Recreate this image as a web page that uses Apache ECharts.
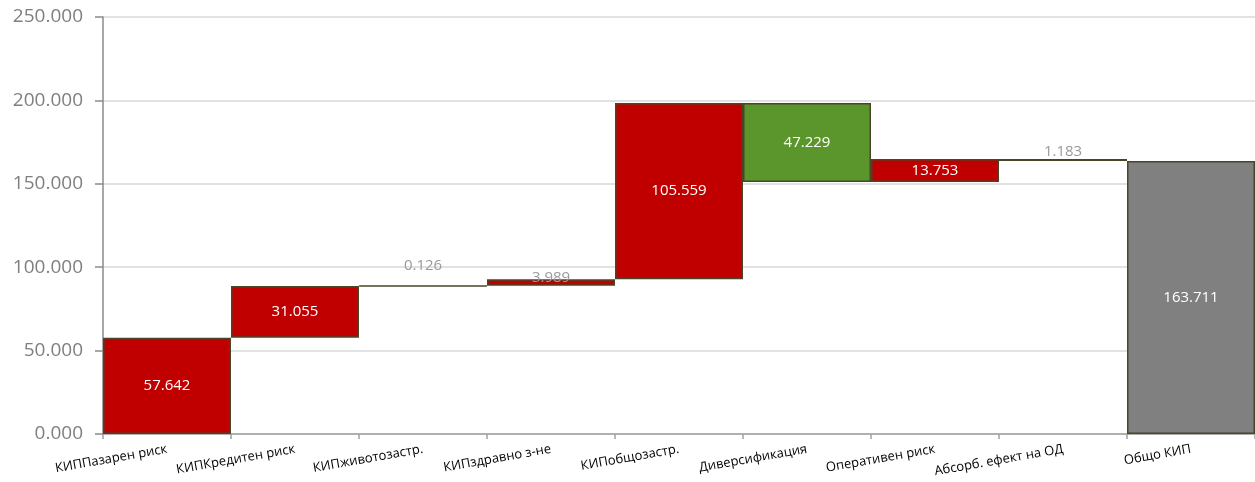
<!DOCTYPE html>
<html><head><meta charset="utf-8">
<script src="https://cdn.jsdelivr.net/npm/echarts@6/dist/echarts.min.js"></script>
<style>html,body{margin:0;padding:0;background:#fff}#c{width:1255px;height:482px}</style>
</head><body><div id="c"></div>
<script>
const categories = ['КИППазарен риск','КИПКредитен риск','КИПживотозастр.','КИПздравно з-не','КИПобщозастр.','Диверсификация','Оперативен риск','Абсорб. ефект на ОД','Общо КИП'];
const deltas = [57.642, 31.055, 0.126, 3.989, 105.559, -47.229, 13.753, -1.183];
const total = 163.711;
const yTicks = [0, 50, 100, 150, 200, 250];

const RED = '#c00000', GREEN = '#5a962c', GRAY = '#808080', BORDER = '#4a4528';
const smallLabelOffset = {2: -12, 3: 6, 7: 0};
const baseData = [], barData = [];
let run = 0;
deltas.forEach((d, i) => {
  const lo = d >= 0 ? run : run + d;
  const big = Math.abs(d) > 10;
  baseData.push(lo);
  barData.push({
    value: Math.abs(d),
    itemStyle: {color: d >= 0 ? RED : GREEN},
    label: big ? {position: 'inside', color: '#ffffff'} :
      {position: 'top', color: '#9a9a9a', distance: 0, offset: [0, smallLabelOffset[i] || 0]}
  });
  run += d;
});
baseData.push(0);
barData.push({value: total, itemStyle: {color: GRAY}, label: {position: 'inside', color: '#ffffff'}});

const chart = echarts.init(document.getElementById('c'));
chart.setOption({
  animation: false,
  grid: {left: 103, right: 0, top: 17, bottom: 48},
  xAxis: {
    type: 'category', data: categories,
    axisLine: {lineStyle: {color: '#a0a0a0', width: 1.5}},
    axisTick: {show: true, length: 5, lineStyle: {color: '#a0a0a0', width: 1.5}},
    axisLabel: {rotate: 10, color: '#000', fontSize: 13, fontFamily: 'Open Sans', margin: 15, interval: 0}
  },
  yAxis: {
    type: 'value', min: yTicks[0], max: yTicks[yTicks.length - 1], interval: 50,
    axisLine: {show: true, lineStyle: {color: '#8a8a8a', width: 1.5}},
    axisTick: {show: true, length: 8, lineStyle: {color: '#8a8a8a', width: 1.5}},
    splitLine: {lineStyle: {color: '#d9d9d9', width: 1.5}},
    axisLabel: {color: '#7f7f7f', fontSize: 19, fontFamily: 'Open Sans', margin: 20, formatter: v => v.toFixed(3)}
  },
  series: [
    {type: 'bar', stack: 'w', data: baseData, itemStyle: {color: 'transparent'}, barCategoryGap: '0%', silent: true},
    {type: 'bar', stack: 'w', data: barData, barCategoryGap: '0%',
     itemStyle: {borderColor: BORDER, borderWidth: 1.5},
     label: {show: true, fontSize: 15, fontFamily: 'Open Sans', formatter: p => p.value.toFixed(3)}}
  ]
});
</script></body></html>
